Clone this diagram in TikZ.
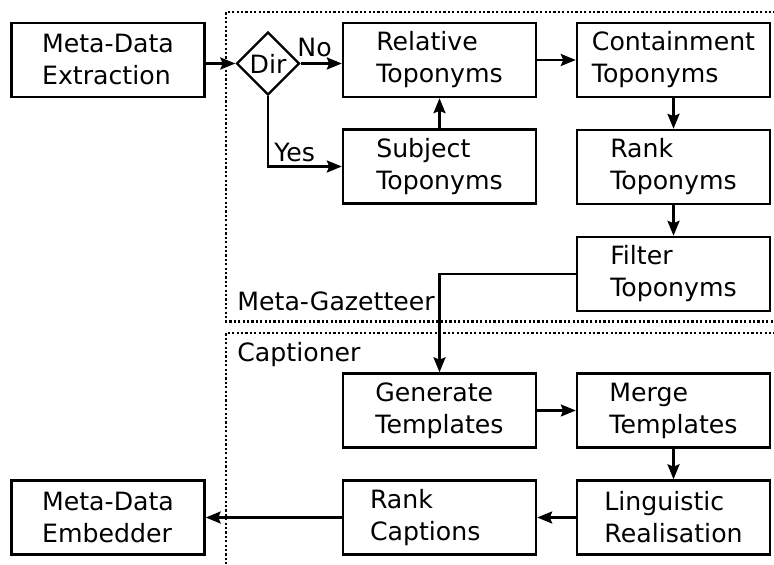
\documentclass[tikz,border=0pt]{standalone}
\usepackage{fontspec}
\setmainfont{DejaVu Sans}
\usetikzlibrary{shapes.geometric,arrows.meta}

\begin{document}
\begin{tikzpicture}[x=0.5pt,y=-0.5pt,
	every node/.style={font=\fontsize{12.6}{16}\selectfont},
	stage/.style={draw=black,line width=1.2pt,minimum width=96.5pt,minimum height=37pt,align=left,inner sep=0pt},
	choice/.style={shape=diamond,draw=black,line width=1.2pt,minimum size=31.5pt,inner sep=0pt},
	tag/.style={anchor=base west,inner sep=0pt},
	flow/.style={line width=1.2pt,-{Stealth[length=7.5pt,width=6pt,inset=1.2pt]}},
	region/.style={line width=1.1pt,dash pattern=on 1.1pt off 1.1pt}]
	\useasboundingbox (0,0) rectangle (774,565);

	\node[stage] (extract)  at (108, 60)      {Meta-Data\\Extraction};
	\node[choice] (dir)     at (268, 63.5)    {Dir};
	\node[stage] (relative) at (439.5, 60)    {Relative\\Toponyms};
	\node[stage] (subject)  at (439.5, 166.5) {Subject\\Toponyms};
	\node[stage] (contain)  at (673.5, 60)    {Containment\\Toponyms};
	\node[stage] (rank)     at (673.5, 167)   {Rank\\Toponyms};
	\node[stage] (filter)   at (673.5, 274)   {Filter\\Toponyms};
	\node[stage] (generate) at (439.5, 410.5) {Generate\\Templates};
	\node[stage] (merge)    at (673.5, 410.5) {Merge\\Templates};
	\node[stage] (realise)  at (673.5, 517.5) {Linguistic\\Realisation};
	\node[stage,text width=69.5pt] (rankcap) at (439.5, 517.5) {Rank\\Captions};
	\node[stage] (embed)    at (108, 517.5)   {Meta-Data\\Embedder};

	\node[tag] (no)  at (297, 57)  {No};
	\node[tag] (yes) at (274, 162) {Yes};
	\node[tag] (gazetteer) at (237, 311) {Meta-Gazetteer};
	\node[tag] (captioner) at (237, 362) {Captioner};

	\draw[region] (780, 12) -- (226, 12) -- (226, 321.5) -- (780, 321.5);
	\draw[region] (780, 333) -- (226, 333) -- (226, 570);

	\draw[flow] (dir -| extract.east) -- (dir.west);
	\draw[flow] (dir.east) -- (dir.east -| relative.west);
	\draw[flow] (dir.south) |- (subject.west);
	\draw[flow] (subject.north) -- (relative.south);
	\draw[flow] (relative.east) -- (contain.west);
	\draw[flow] (contain.south) -- (rank.north);
	\draw[flow] (rank.south) -- (filter.north);
	\draw[flow] (filter.west) -| (generate.north);
	\draw[flow] (generate.east) -- (merge.west);
	\draw[flow] (merge.south) -- (realise.north);
	\draw[flow] (realise.west) -- (rankcap.east);
	\draw[flow] (rankcap.west) -- (embed.east);

\end{tikzpicture}
\end{document}
